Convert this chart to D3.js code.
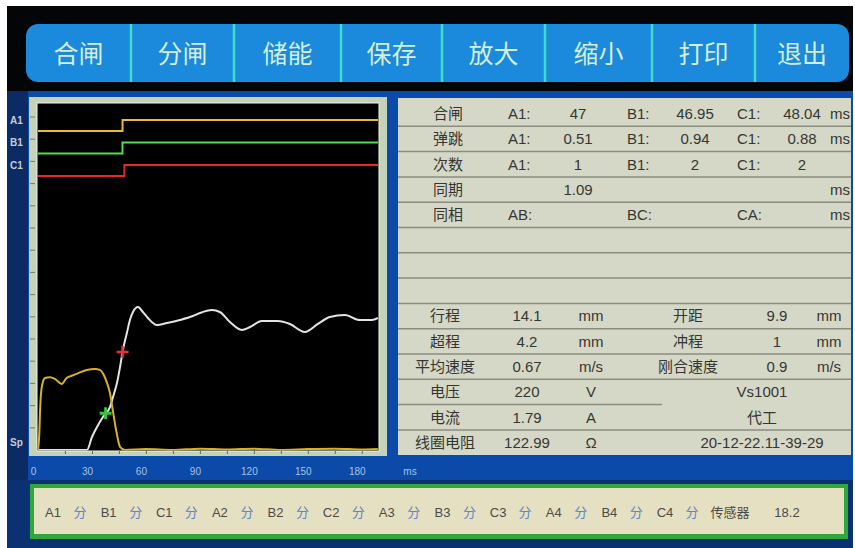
<!DOCTYPE html>
<html>
<head>
<meta charset="utf-8">
<script src="https://cdn.jsdelivr.net/npm/d3@7"></script>
<style>
  html, body { margin: 0; padding: 0; background: #fff; }
  svg { display: block; }
  text { font-family: "Liberation Sans", "Noto Sans CJK SC", sans-serif; }
</style>
</head>
<body>
<svg id="screen" width="855" height="548"></svg>
<script>
// ---------------- data ----------------
const buttons = ["合闸", "分闸", "储能", "保存", "放大", "缩小", "打印", "退出"];

const channels = ["A1", "B1", "C1"];
const closeTimes = [47, 46.95, 48.04];       // ms
const bounceTimes = [0.51, 0.94, 0.88];      // ms
const bounceCounts = [1, 2, 2];
const syncMs = 1.09;

const timeTicks = [0, 30, 60, 90, 120, 150, 180];

// contact travel (mm) vs time (ms)
const travelTime = [0, 27.2, 30.0, 32.8, 36.1, 40.0, 41.7, 43.9, 45.6, 47.2, 49.4, 51.1, 52.8, 55.6, 58.3,
  61.1, 66.1, 71.7, 78.9, 86.1, 90.0, 96.7, 101.1, 106.7, 113.3, 117.8, 124.4, 133.3, 140.0, 148.3,
  155.6, 162.2, 170.6, 178.9, 185.6, 188.9];
const travelMm = [0, 0, 1.41, 2.49, 3.58, 4.66, 5.75, 7.27, 9.00, 10.85, 12.69, 14.10, 14.97, 15.51, 14.97,
  14.32, 13.56, 13.77, 14.10, 14.53, 14.86, 15.18, 14.97, 13.88, 13.02, 13.34, 13.99, 13.99, 13.67, 12.80,
  13.67, 14.43, 14.64, 14.10, 14.10, 14.32];

// closing coil current (A) vs time (ms)
const currentTime = [0, 0.8, 1.1, 2.1, 3.9, 6.7, 9.4, 13.2, 15.9, 18.7, 22.4, 27.1, 31.7, 34.4, 36.3, 38.2,
  40.0, 41.8, 43.7, 45.6, 48.3, 60, 75, 90, 105, 120, 135, 150, 165, 180, 188.9];
const currentA = [0, 0.44, 0.82, 1.39, 1.59, 1.61, 1.57, 1.46, 1.59, 1.64, 1.70, 1.77, 1.79, 1.77, 1.68, 1.50,
  1.26, 0.82, 0.38, 0.07, 0, 0.02, 0, 0.03, 0.01, 0.03, 0, 0.02, 0.03, 0.01, 0.02];

const speedMarkMs = 37.6;   // start of the closing-speed window
const endMs = 189;

const upperRows = [
  ["合闸", "A1:", closeTimes[0], "B1:", closeTimes[1], "C1:", closeTimes[2], "ms"],
  ["弹跳", "A1:", bounceTimes[0], "B1:", bounceTimes[1], "C1:", bounceTimes[2], "ms"],
  ["次数", "A1:", bounceCounts[0], "B1:", bounceCounts[1], "C1:", bounceCounts[2], ""],
  ["同期", "", syncMs, "", "", "", "", "ms"],
  ["同相", "AB:", "", "BC:", "", "CA:", "", "ms"]
];
const lowerLeft = [
  ["行程", 14.1, "mm"],
  ["超程", 4.2, "mm"],
  ["平均速度", 0.67, "m/s"],
  ["电压", 220, "V"],
  ["电流", 1.79, "A"],
  ["线圈电阻", 122.99, "Ω"]
];
const lowerRight = [
  ["开距", 9.9, "mm"],
  ["冲程", 1, "mm"],
  ["刚合速度", 0.9, "m/s"]
];
const infoLines = ["Vs1001", "代工", "20-12-22.11-39-29"];

const statusChannels = ["A1", "B1", "C1", "A2", "B2", "C2", "A3", "B3", "C3", "A4", "B4", "C4"];
const statusState = "分";
const sensorLabel = "传感器";
const sensorValue = 18.2;

// ---------------- drawing ----------------
const svg = d3.select("#screen");

// screen body
svg.append("rect").attr("width", 855).attr("height", 548).attr("fill", "#ffffff");
svg.append("rect").attr("x", 7).attr("y", 6).attr("width", 846).attr("height", 542).attr("fill", "#030507");
svg.append("rect").attr("x", 7).attr("y", 91).attr("width", 846).attr("height", 457).attr("fill", "#0b4aa8");
svg.append("rect").attr("x", 7).attr("y", 91).attr("width", 21).attr("height", 457).attr("fill", "#0a2b64");
svg.append("rect").attr("x", 7).attr("y", 480).attr("width", 846).attr("height", 68).attr("fill", "#0a3272");

// button bar
const bar = svg.append("g");
const edges = [26, 131, 234, 341, 442, 545, 652, 755, 849];
bar.append("rect").attr("x", 26).attr("y", 24).attr("width", 823).attr("height", 58)
  .attr("rx", 12).attr("fill", "#1b89dc");
bar.selectAll("line.div").data(edges.slice(1, -1)).join("line")
  .attr("x1", d => d).attr("x2", d => d).attr("y1", 24).attr("y2", 82)
  .attr("stroke", "#3fdccc").attr("stroke-width", 2.5);
bar.selectAll("text").data(buttons).join("text")
  .attr("x", (d, i) => (edges[i] + edges[i + 1]) / 2)
  .attr("y", 54).attr("dy", "0.36em").attr("text-anchor", "middle")
  .attr("font-size", 25).attr("fill", "#d4eed8")
  .style("font-family", "'Noto Sans CJK SC', sans-serif")
  .text(d => d);

// chart frame
const chart = svg.append("g");
chart.append("rect").attr("x", 29).attr("y", 97).attr("width", 358).attr("height", 359).attr("fill", "#c4d2ba");
chart.append("rect").attr("x", 37).attr("y", 103).attr("width", 342).attr("height", 348)
  .attr("fill", "#000").attr("stroke", "#eef3e6").attr("stroke-width", 1);

// scales
const x = d3.scaleLinear().domain([0, endMs]).range([38, 378]);
const lane = d3.scalePoint().domain(channels).range([131, 176]);
const level = d3.scaleLinear().domain([0, 1]).range([0, -11]);
const yTravel = d3.scaleLinear().domain([0, 16]).range([450, 302.5]);
const yCurrent = d3.scaleLinear().domain([0, 2]).range([450, 359.5]);

// frame ticks
chart.selectAll("line.ytick").data(d3.range(117, 450, 22.2)).join("line")
  .attr("x1", 30).attr("x2", 35).attr("y1", d => d).attr("y2", d => d)
  .attr("stroke", "#6f7c70").attr("stroke-width", 1);
const minor = chart.append("g").attr("transform", "translate(0,451)")
  .call(d3.axisBottom(x).tickValues(d3.range(15, endMs, 15)).tickSize(3).tickFormat(""));
minor.select(".domain").remove();
minor.selectAll("line").attr("stroke", "#5e6a60");

chart.append("clipPath").attr("id", "plotClip")
  .append("rect").attr("x", 37.5).attr("y", 103.5).attr("width", 341).attr("height", 347);
const plot = chart.append("g").attr("clip-path", "url(#plotClip)");

// contact state channels
const chanColors = { A1: "#e6bb3c", B1: "#4ee04a", C1: "#e42a2a" };
const stepLine = d3.line().curve(d3.curveStepAfter);
channels.forEach((c, i) => {
  const pts = [[0, 0], [closeTimes[i], 1], [endMs, 1]];
  plot.append("path")
    .attr("d", stepLine(pts.map(p => [x(p[0]), lane(c) + level(p[1])])))
    .attr("fill", "none").attr("stroke", chanColors[c]).attr("stroke-width", 2);
});

// travel curve
const travelData = travelTime.map((t, i) => [t, travelMm[i]]);
plot.append("path")
  .attr("d", d3.line().x(d => x(d[0])).y(d => yTravel(d[1])).curve(d3.curveMonotoneX)(travelData))
  .attr("fill", "none").attr("stroke", "#e4e4e4").attr("stroke-width", 2);

// coil current curve
const currentData = currentTime.map((t, i) => [t, currentA[i]]);
plot.append("path")
  .attr("d", d3.line().x(d => x(d[0])).y(d => yCurrent(d[1])).curve(d3.curveMonotoneX)(currentData))
  .attr("fill", "none").attr("stroke", "#d6b226").attr("stroke-width", 2);

// marks on the travel curve
const travelAt = t => {
  const i = d3.bisectRight(travelTime, t);
  const t0 = travelTime[i - 1], t1 = travelTime[i];
  return d3.interpolateNumber(travelMm[i - 1], travelMm[i])((t - t0) / (t1 - t0));
};
const cross = (t, color, s, w) => {
  const cx = x(t), cy = yTravel(travelAt(t));
  plot.append("path")
    .attr("d", `M${cx - s},${cy}H${cx + s}M${cx},${cy - s}V${cy + s}`)
    .attr("stroke", color).attr("stroke-width", w).attr("fill", "none");
};
cross(speedMarkMs, "#3cc23c", 6, 3);
cross(closeTimes[0], "#e8303c", 6, 2.5);

// channel labels
const lbl = svg.append("g").attr("font-size", 10).attr("fill", "#c6ccd6").attr("font-weight", "bold");
channels.forEach(c => {
  lbl.append("text").attr("x", 10).attr("y", lane(c) + level(1)).attr("dy", "0.35em").text(c);
});
lbl.append("text").attr("x", 10).attr("y", yTravel(0) - 8).attr("dy", "0.35em").text("Sp");

// time axis labels
const xa = svg.append("g").attr("transform", "translate(0,456)")
  .call(d3.axisBottom(x).tickValues(timeTicks).tickSize(0).tickPadding(12));
xa.select(".domain").remove();
xa.selectAll("text").attr("fill", "#a9c2e2").attr("font-size", 10).attr("dx", -5)
  .style("font-family", "'Liberation Sans', sans-serif");
svg.append("text").attr("x", 410).attr("y", 468).attr("dy", "0.71em").attr("text-anchor", "middle")
  .attr("fill", "#a9c2e2").attr("font-size", 10).text("ms");

// results table
const tbl = svg.append("g");
const tableTop = 101, rowH = 25.3;
const rowY = k => tableTop + rowH * (k + 0.5);
tbl.append("rect").attr("x", 398).attr("y", 98).attr("width", 453).attr("height", 357).attr("fill", "#d6d8c7");
const fullLines = [0, 1, 2, 3, 4, 5, 6, 7, 8, 9, 10, 12];
tbl.selectAll("line.full").data(fullLines).join("line")
  .attr("x1", 398).attr("x2", 851)
  .attr("y1", k => tableTop + rowH * (k + 1)).attr("y2", k => tableTop + rowH * (k + 1))
  .attr("stroke", "#8a8c80").attr("stroke-width", 1.5);
tbl.append("line").attr("x1", 398).attr("x2", 662)
  .attr("y1", tableTop + rowH * 12).attr("y2", tableTop + rowH * 12)
  .attr("stroke", "#8a8c80").attr("stroke-width", 1.5);

const txt = (g, xx, yy, s, anchor) => g.append("text").attr("x", xx).attr("y", yy).attr("dy", "0.36em")
  .attr("text-anchor", anchor || "middle").attr("font-size", 15).attr("fill", "#353633").text(s);

const upperCols = [
  { x: 448, a: "middle" }, { x: 508, a: "start" }, { x: 578, a: "middle" }, { x: 627, a: "start" },
  { x: 695, a: "middle" }, { x: 737, a: "start" }, { x: 802, a: "middle" }, { x: 830, a: "start" }
];
upperRows.forEach((row, k) => {
  row.forEach((cell, j) => {
    if (cell !== "") txt(tbl, upperCols[j].x, rowY(k), String(cell), upperCols[j].a);
  });
});

const leftCols = [445, 527, 591];
lowerLeft.forEach((row, k) => {
  row.forEach((cell, j) => txt(tbl, leftCols[j], rowY(8 + k), String(cell)));
});
const rightCols = [688, 777, 829];
lowerRight.forEach((row, k) => {
  row.forEach((cell, j) => txt(tbl, rightCols[j], rowY(8 + k), String(cell)));
});
infoLines.forEach((s, k) => txt(tbl, 762, rowY(11 + k), s));

// status bar
const st = svg.append("g");
st.append("rect").attr("x", 30).attr("y", 484).attr("width", 818).attr("height", 55).attr("fill", "#2ea83c");
st.append("rect").attr("x", 34).attr("y", 488).attr("width", 810).attr("height", 46).attr("fill", "#e6e0c2");
const sx = d3.scaleLinear().domain([0, statusChannels.length - 1]).range([53, 665]);
statusChannels.forEach((c, i) => {
  st.append("text").attr("x", sx(i)).attr("y", 512).attr("dy", "0.36em").attr("text-anchor", "middle")
    .attr("font-size", 13).attr("fill", "#4a4b48").text(c);
  st.append("text").attr("x", sx(i) + 27).attr("y", 512).attr("dy", "0.36em").attr("text-anchor", "middle")
    .attr("font-size", 13).attr("fill", "#5b86cc").text(statusState);
});
st.append("text").attr("x", 730).attr("y", 512).attr("dy", "0.36em").attr("text-anchor", "middle")
  .attr("font-size", 13).attr("fill", "#4a4b48").text(sensorLabel);
st.append("text").attr("x", 787).attr("y", 512).attr("dy", "0.36em").attr("text-anchor", "middle")
  .attr("font-size", 13).attr("fill", "#4a4b48").text(sensorValue);
</script>
</body>
</html>
